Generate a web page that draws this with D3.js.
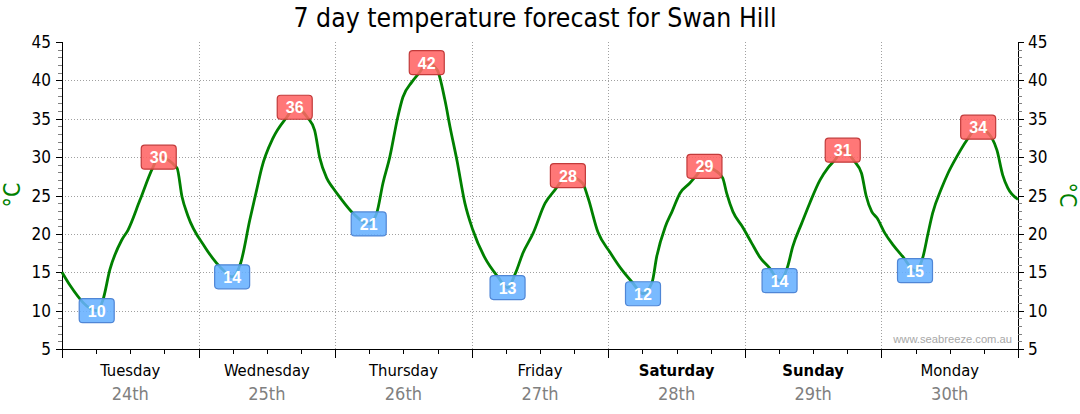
<!DOCTYPE html>
<html><head><meta charset="utf-8">
<script src="https://cdn.jsdelivr.net/npm/d3@7"></script>
<style>
html,body{margin:0;padding:0;background:#fff;}
svg{display:block;}
</style></head>
<body>
<script>
// ---- data ----
const hours = [0,1.4,6.1,7.2,8.4,10.5,11.6,13.7,16.0,17.0,20.2,21.1,22.1,25.1,28.3,29.9,31.4,33.0,34.2,35.1,37.1,39.5,40.9,43.2,44.4,45.3,46.5,47.6,48.8,51.0,53.9,55.3,56.4,57.6,59.0,59.9,61.5,62.9,64.1,65.9,67.3,68.2,69.4,70.8,72.2,74.3,76.6,78.3,79.7,81.0,82.8,84.9,86.6,88.9,91.5,92.4,94.2,96.3,98.4,100.2,102.1,103.7,104.5,106.0,107.2,108.6,110.3,111.6,112.9,114.7,116.1,116.8,117.9,119.6,121.2,122.6,124.4,126.1,127.5,128.4,130.0,131.4,133.2,134.6,135.8,137.2,139.3,140.5,141.3,142.3,143.2,144.6,146.0,147.8,149.9,151.3,152.2,153.0,154.6,155.7,157.2,159.0,161.0,162.5,163.4,164.3,165.3,166.2,168.0];
const temps = [15.0,13.3,10.0,11.4,15.3,19.2,20.5,24.4,28.7,30.0,28.6,24.8,22.4,18.3,15.3,14.4,16.2,21.8,25.7,28.6,32.5,35.2,36.5,35.1,33.5,29.9,27.3,26.0,24.8,22.8,21.3,22.7,26.6,30.0,35.2,37.8,39.8,41.1,42.3,41.4,37.4,33.9,29.6,24.0,20.5,16.9,14.4,13.0,14.9,17.5,20.1,24.0,25.7,27.6,26.6,24.8,20.2,17.6,15.3,13.7,12.2,13.7,17.0,20.9,22.9,25.3,26.6,27.7,28.8,28.3,27.3,25.3,22.9,20.9,18.8,17.0,15.5,13.9,15.7,18.3,21.4,24.0,27.0,28.6,29.6,30.9,29.4,27.9,25.0,22.9,22.1,20.1,18.6,17.0,15.2,17.0,20.1,22.7,26.0,27.9,30.0,32.2,33.9,33.3,32.5,30.9,27.7,26.0,24.5];
const highTimes = [17.0,40.9,64.1,88.9,112.9,137.2,161.0];
const highLabels = [30,36,42,28,29,31,34];
const lowTimes = [6.1,29.9,53.9,78.3,102.1,126.1,149.9];
const lowLabels = [10,14,21,13,12,14,15];
const dayNames = ["Tuesday","Wednesday","Thursday","Friday","Saturday","Sunday","Monday"];
const dayDates = ["24th","25th","26th","27th","28th","29th","30th"];
const weekendDays = ["Saturday","Sunday"];
const yTicks = [5,10,15,20,25,30,35,40,45];
const title = "7 day temperature forecast for Swan Hill";
const unit = "°C";
const watermark = "www.seabreeze.com.au";

// ---- layout ----
const W = 1080, H = 414;
const L = 62, R = 1018, T = 42, B = 349;
const FONT = "'DejaVu Sans Condensed','DejaVu Sans',sans-serif";
const x = d3.scaleLinear().domain([0,168]).range([L,R]);
const y = d3.scaleLinear().domain([5,45]).range([B,T]);

const svg = d3.select("body").append("svg").attr("width",W).attr("height",H);

// title
svg.append("text").attr("x",535).attr("y",27).attr("text-anchor","middle")
  .attr("font-family",FONT).attr("font-size",26).attr("fill","#000")
  .attr("textLength",483).attr("lengthAdjust","spacingAndGlyphs").text(title);

// grid
const grid = svg.append("g").attr("stroke","#a0a0a0").attr("stroke-width",1).attr("stroke-dasharray","1,2");
grid.selectAll("line.h").data(yTicks.filter(v=>v>5 && v<45)).join("line")
  .attr("x1",L).attr("x2",R).attr("y1",d=>Math.round(y(d))+0.5).attr("y2",d=>Math.round(y(d))+0.5);
const dayBounds = d3.range(1,7).map(i=>i*24);
grid.selectAll("line.v").data(dayBounds).join("line").attr("class","v")
  .attr("x1",d=>Math.round(x(d))+0.5).attr("x2",d=>Math.round(x(d))+0.5).attr("y1",T).attr("y2",B);

// y axes
const minorY = d3.range(5,46,1).filter(v=>v%5!==0);
function yAxis(side){
  const g = svg.append("g");
  const ax = side==="left"? L : R;
  const dir = side==="left"? -1 : 1;
  g.append("line").attr("x1",ax+0.5).attr("x2",ax+0.5).attr("y1",T).attr("y2",B).attr("stroke","#000");
  g.selectAll("line.mi").data(minorY).join("line").attr("class","mi")
    .attr("x1",ax).attr("x2",ax+dir*4).attr("y1",d=>Math.round(y(d))+0.5).attr("y2",d=>Math.round(y(d))+0.5)
    .attr("stroke","#808080");
  g.selectAll("line.ma").data(yTicks).join("line").attr("class","ma")
    .attr("x1",ax).attr("x2",ax+dir*6).attr("y1",d=>Math.round(y(d))+0.5).attr("y2",d=>Math.round(y(d))+0.5)
    .attr("stroke","#000");
  g.selectAll("text").data(yTicks).join("text")
    .attr("x",side==="left"? ax-11 : ax+10).attr("y",d=>y(d)+6)
    .attr("text-anchor",side==="left"?"end":"start")
    .attr("font-family",FONT).attr("font-size",17).attr("fill","#000").text(d=>d);
}
yAxis("left"); yAxis("right");

// axis titles
svg.append("text").attr("transform",`translate(20,195) rotate(-90)`).attr("text-anchor","middle")
  .attr("font-family",FONT).attr("font-size",23).attr("fill","#008000").text(unit);
svg.append("text").attr("transform",`translate(1060,195) rotate(90)`).attr("text-anchor","middle")
  .attr("font-family",FONT).attr("font-size",23).attr("fill","#008000").text(unit);

// x axis
const xg = svg.append("g");
xg.append("line").attr("x1",L).attr("x2",R+1).attr("y1",B+0.5).attr("y2",B+0.5).attr("stroke","#000");
xg.selectAll("line.mi").data(d3.range(6,168,6).filter(h=>h%24!==0)).join("line").attr("class","mi")
  .attr("x1",d=>Math.round(x(d))+0.5).attr("x2",d=>Math.round(x(d))+0.5).attr("y1",B).attr("y2",B+5).attr("stroke","#000");
xg.selectAll("line.ma").data(d3.range(0,169,24)).join("line").attr("class","ma")
  .attr("x1",d=>Math.round(x(d))+0.5).attr("x2",d=>Math.round(x(d))+0.5).attr("y1",B).attr("y2",B+9).attr("stroke","#000");
xg.selectAll("text.day").data(dayNames).join("text").attr("class","day")
  .attr("x",(d,i)=>x(i*24+12)).attr("y",376).attr("text-anchor","middle")
  .attr("font-family",FONT).attr("font-size",16.5)
  .attr("font-weight",d=>weekendDays.includes(d)?"bold":"normal").attr("fill","#000").text(d=>d);
xg.selectAll("text.date").data(dayDates).join("text").attr("class","date")
  .attr("x",(d,i)=>x(i*24+12)).attr("y",400).attr("text-anchor","middle")
  .attr("font-family",FONT).attr("font-size",18).attr("fill","#808080").text(d=>d);

// watermark
svg.append("text").attr("x",1012).attr("y",343).attr("text-anchor","end")
  .attr("font-family","'Liberation Sans',Arial,sans-serif").attr("font-size",11.2).attr("fill","#a8a8a8").text(watermark);

// line
const pts = hours.map((h,i)=>[h,temps[i]]);
svg.append("path").datum(pts)
  .attr("d",d3.line().x(d=>x(d[0])).y(d=>y(d[1])).curve(d3.curveMonotoneX))
  .attr("fill","none").attr("stroke","#008000").attr("stroke-width",2.8).attr("stroke-linejoin","round");

// labels
function tempAt(h){ const i = hours.indexOf(h); return temps[i]; }
function labels(times, vals, fill, stroke){
  const g = svg.append("g");
  const items = times.map((t,i)=>({t, v: vals[i], tv: tempAt(t)}));
  const grp = g.selectAll("g").data(items).join("g")
    .attr("transform",d=>`translate(${x(d.t)},${y(d.tv)})`);
  grp.append("rect").attr("x",-17.5).attr("y",-12).attr("width",35).attr("height",24).attr("rx",3.5)
    .attr("fill",fill).attr("fill-opacity",0.88).attr("stroke",stroke).attr("stroke-width",1.2);
  grp.append("text").attr("y",6).attr("text-anchor","middle")
    .attr("font-family","'Liberation Sans',Arial,sans-serif").attr("font-weight","bold").attr("font-size",16)
    .attr("fill","#fff").text(d=>d.v);
}
labels(lowTimes, lowLabels, "#66b0ff", "#4f86d6");
labels(highTimes, highLabels, "#ff6464", "#c23a3a");
</script>
</body></html>
